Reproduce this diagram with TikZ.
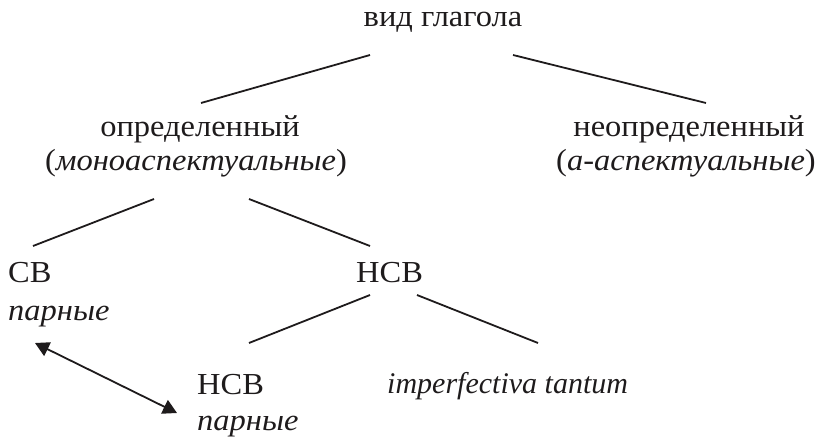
\documentclass[tikz,border=0pt]{standalone}
\usepackage{fontspec}
\setmainfont{Liberation Serif}
\newfontfamily\cyr{Liberation Serif}[FakeStretch=1.065]
\usetikzlibrary{arrows.meta}
\definecolor{ink}{HTML}{1E1B1C}
\tikzset{
  lbl/.style={inner sep=0pt, anchor=base west, text=ink, font=\fontsize{30}{34}\selectfont},
  lblc/.style={inner sep=0pt, anchor=base, text=ink, font=\fontsize{30}{34}\selectfont},
  cyrl/.style={lbl, font=\fontsize{30.5}{34}\selectfont\cyr},
  cyrc/.style={lblc, font=\fontsize{30.5}{34}\selectfont\cyr},
  edge/.style={draw=ink, line width=1.8pt},
  dbl/.style={draw=ink, line width=1.8pt, {Triangle[length=14pt,width=15pt]}-{Triangle[length=14pt,width=15pt]}}
}
\begin{document}
\begin{tikzpicture}[x=1pt,y=-1pt]
\useasboundingbox (0,0) rectangle (819,438);
% texts
\node[cyrc] (root) at (443,27) {вид глагола};
\node[cyrc] (def1) at (200,137) {определенный};
\node[cyrc] (def2) at (196,171) {(\textit{моноаспектуальные})};
\node[cyrc] (ind1) at (689,137) {неопределенный};
\node[cyrc] (ind2) at (686,171) {(\textit{а-аспектуальные})};
\node[cyrl] (sv1) at (8,283) {СВ};
\node[cyrl] (sv2) at (8,320) {\textit{парные}};
\node[cyrl] (nsv) at (356,283) {НСВ};
\node[cyrl] (nsvp1) at (197,394) {НСВ};
\node[cyrl] (nsvp2) at (197,430) {\textit{парные}};
\node[lbl] (imp) at (387,393) {\textit{imperfectiva tantum}};
% connector ends
\coordinate (a1) at (370,55);  \coordinate (a2) at (201,103);
\coordinate (b1) at (513,55);  \coordinate (b2) at (706,103);
\coordinate (c1) at (154,199); \coordinate (c2) at (33,246);
\coordinate (d1) at (249,199); \coordinate (d2) at (370,246);
\coordinate (e1) at (370,295); \coordinate (e2) at (249,343);
\coordinate (f1) at (417,295); \coordinate (f2) at (538,343);
\coordinate (g1) at (35,343);  \coordinate (g2) at (177,413);
\draw[edge] (a1) -- (a2);
\draw[edge] (b1) -- (b2);
\draw[edge] (c1) -- (c2);
\draw[edge] (d1) -- (d2);
\draw[edge] (e1) -- (e2);
\draw[edge] (f1) -- (f2);
\draw[dbl] (g1) -- (g2);
\end{tikzpicture}
\end{document}
